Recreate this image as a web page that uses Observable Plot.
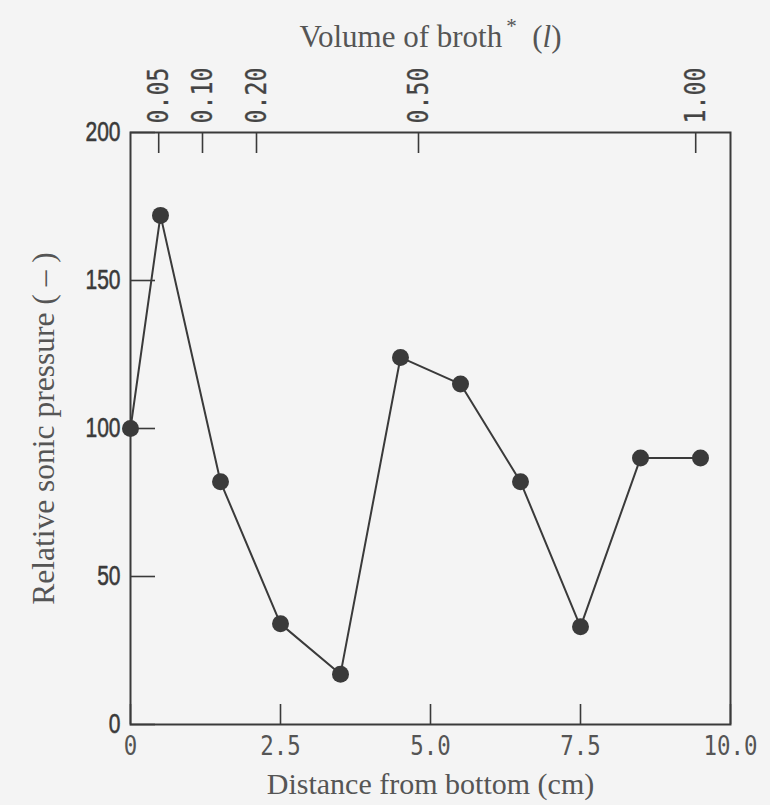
<!DOCTYPE html>
<html>
<head>
<meta charset="utf-8">
<script src="https://cdn.jsdelivr.net/npm/d3@7"></script>
<script src="https://cdn.jsdelivr.net/npm/@observablehq/plot@0.6"></script>
<style>
  html, body { margin: 0; padding: 0; background: #f4f4f4; }
  #chart svg { display: block; }
</style>
</head>
<body>
<div id="chart"></div>
<script>
// Measured sonic pressure along the height of the vessel
const distance = [0, 0.5, 1.5, 2.5, 3.5, 4.5, 5.5, 6.5, 7.5, 8.5, 9.5];
const pressure = [100, 172, 82, 34, 17, 124, 115, 82, 33, 90, 90];

// Axis ticks
const distanceTicks = [0, 2.5, 5, 7.5, 10];
const pressureTicks = [0, 50, 100, 150, 200];

// Broth volume scale on the top edge (volume reached at a given distance)
const volumeLabels = ["0.05", "0.10", "0.20", "0.50", "1.00"];
const volumeAt = [0.47, 1.2, 2.1, 4.8, 9.42];

const xTitle = "Distance from bottom (cm)";
const yTitle = "Relative sonic pressure ( – )";
const topTitle = "Volume of broth* (l)";

const points = distance.map((d, i) => ({distance: d, pressure: pressure[i]}));

const ink = "#3a3a3a";
const soft = "#555";
const serif = "'Liberation Serif', 'Times New Roman', serif";

const chart = Plot.plot({
  width: 770,
  height: 805,
  marginLeft: 130,
  marginRight: 40,
  marginTop: 132,
  marginBottom: 81,
  style: {background: "#f4f4f4", color: ink, overflow: "visible"},
  x: {domain: [0, 10]},
  y: {domain: [0, 200]},
  marks: [
    Plot.axisY(pressureTicks, {
      anchor: "left", tickSize: -25, tickPadding: 35, strokeWidth: 1.6,
      tickFormat: d => String(d), label: null,
      fontSize: 28, fontFamily: "'Liberation Sans', Arial, sans-serif", fill: ink,
      textStroke: ink, textStrokeWidth: 0.6
    }),
    Plot.axisX(distanceTicks, {
      anchor: "bottom", tickSize: -20, tickPadding: 31, strokeWidth: 1.6,
      tickFormat: d => d === 0 ? "0" : d.toFixed(1), label: null,
      fontSize: 27, fontFamily: "'DejaVu Sans Mono', monospace", fill: soft
    }),
    Plot.axisX(volumeAt, {
      anchor: "top", tickSize: -20, tickPadding: 29, strokeWidth: 1.6, tickRotate: -90,
      tickFormat: d => volumeLabels[volumeAt.indexOf(d)], label: null,
      fontSize: 29, fontFamily: "'DejaVu Sans Mono', monospace", fill: "#444",
      textStroke: "#444", textStrokeWidth: 0.3
    }),
    Plot.frame({stroke: ink, strokeWidth: 2}),
    Plot.line(points, {x: "distance", y: "pressure", stroke: ink, strokeWidth: 2}),
    Plot.dot(points, {x: "distance", y: "pressure", r: 8.5, fill: ink}),
    Plot.text([xTitle], {frameAnchor: "bottom", dy: 60, lineAnchor: "middle", textAnchor: "middle", text: d => d, fontSize: 30, fontFamily: serif, fill: soft}),
    Plot.text([yTitle], {frameAnchor: "left", dx: -87, rotate: -90, lineAnchor: "middle", textAnchor: "middle", text: d => d, fontSize: 31.5, fontFamily: serif, fill: soft}),
    Plot.text([topTitle], {frameAnchor: "top", dy: -95, lineAnchor: "middle", textAnchor: "middle", text: d => d, fontSize: 31, fontFamily: serif, fill: soft})
  ]
});

document.getElementById("chart").appendChild(chart);

// Narrow the tick-label glyphs along their baseline
const svg = d3.select(chart);
function squeeze(selector, sx) {
  svg.selectAll(selector).each(function () {
    const t = this.getAttribute("transform") || "";
    this.setAttribute("transform", t + ` scale(${sx},1)`);
  });
}
squeeze('g[aria-label="y-axis tick label"] text', 0.75);
squeeze('g[aria-label="x-axis tick label"] text', 0.83);

// Superscript asterisk and italic unit in the volume title
svg.selectAll("text").filter(function () { return this.textContent === topTitle; }).each(function () {
  const t = d3.select(this);
  t.text(null);
  t.append("tspan").text("Volume of broth");
  t.append("tspan").attr("dx", 4).attr("dy", -14).attr("font-size", 21).text("*");
  t.append("tspan").attr("dy", 14).text("  (");
  t.append("tspan").attr("font-style", "italic").text("l");
  t.append("tspan").text(")");
});

// The top scale labels are narrower than the bottom ones along their length
svg.selectAll('g[aria-label="x-axis tick label"]').each(function () {
  const texts = d3.select(this).selectAll("text");
  if (texts.size() && volumeLabels.includes(texts.nodes()[0].textContent)) {
    texts.each(function () {
      // undo the bottom-axis squeeze and apply the top-axis one
      const t = this.getAttribute("transform").replace(/ scale\([^)]*\)$/, "");
      this.setAttribute("transform", t + " scale(0.8,1)");
    });
  }
});
</script>
</body>
</html>
